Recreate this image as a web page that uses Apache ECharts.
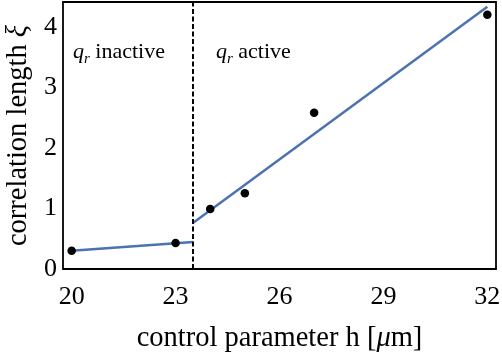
<!DOCTYPE html>
<html>
<head>
<meta charset="utf-8">
<script src="https://cdn.jsdelivr.net/npm/echarts@6/dist/echarts.min.js"></script>
<style>
  html, body { margin: 0; padding: 0; background: #fff; }
  #chart { width: 502px; height: 360px; }
</style>
</head>
<body>
<div id="chart"></div>
<script>
// Measured correlation length versus control parameter
const hValues = [20, 23, 24, 25, 27, 32];
const xiValues = [0.30, 0.43, 0.99, 1.25, 2.58, 4.20];

// Piecewise linear fits on either side of the threshold
const threshold = 23.5;
const fitInactive = [[20, 0.30], [23.5, 0.445]];
const fitActive = [[23.5, 0.76], [32, 4.33]];

// Tick labels
const xTicks = [20, 23, 26, 29, 32];
const yTicks = [0, 1, 2, 3, 4];

const FONT = 'Liberation Serif';
const BLUE = '#4c72b0';
const TITLE_SIZE = 28.5;
const NOTE_SIZE = 22;

const chart = echarts.init(document.getElementById('chart'), null, { renderer: 'canvas' });

const points = hValues.map((h, i) => [h, xiValues[i]]);

function noteStyle(text) {
  return {
    text: '{q|q}{s|r}{t|' + text + '}',
    rich: {
      q: { fontFamily: FONT, fontSize: NOTE_SIZE, fontStyle: 'italic', fill: '#000', lineHeight: 26, verticalAlign: 'bottom' },
      s: { fontFamily: FONT, fontSize: 15, fontStyle: 'italic', fill: '#000', lineHeight: 26, verticalAlign: 'bottom', padding: [0, 0, -4, 0] },
      t: { fontFamily: FONT, fontSize: NOTE_SIZE, fill: '#000', lineHeight: 26, verticalAlign: 'bottom' }
    }
  };
}

chart.setOption({
  animation: false,
  backgroundColor: '#fff',
  grid: {
    left: 63, right: 6, top: 2, bottom: 91,
    containLabel: false,
    outerBoundsMode: 'none',
    show: true, borderColor: '#000', borderWidth: 1.8, backgroundColor: 'transparent'
  },
  xAxis: {
    type: 'value',
    min: 19.75,
    max: 32.25,
    name: '{n|control parameter h [}{i|μ}{n|m]}',
    nameLocation: 'middle',
    nameGap: 55,
    nameTextStyle: {
      rich: {
        n: { fontFamily: FONT, fontSize: TITLE_SIZE, color: '#000' },
        i: { fontFamily: FONT, fontSize: TITLE_SIZE, fontStyle: 'italic', color: '#000' }
      }
    },
    axisLine: { show: false },
    axisTick: { show: false },
    splitLine: { show: false },
    axisLabel: {
      customValues: xTicks,
      fontFamily: FONT,
      fontSize: 26,
      color: '#000',
      margin: 15
    }
  },
  yAxis: {
    type: 'value',
    min: 0,
    max: 4.41,
    name: '{n|correlation length }{i|ξ}',
    nameLocation: 'middle',
    nameGap: 27,
    nameTextStyle: {
      rich: {
        n: { fontFamily: FONT, fontSize: TITLE_SIZE, color: '#000' },
        i: { fontFamily: FONT, fontSize: TITLE_SIZE, fontStyle: 'italic', color: '#000' }
      }
    },
    axisLine: { show: false },
    axisTick: { show: false },
    splitLine: { show: false },
    axisLabel: {
      customValues: yTicks,
      fontFamily: FONT,
      fontSize: 26,
      color: '#000',
      margin: 6
    }
  },
  graphic: [
    { type: 'text', left: 73, top: 41, style: noteStyle(' inactive') },
    { type: 'text', left: 216, top: 41, style: noteStyle(' active') }
  ],
  series: [
    {
      type: 'line',
      data: fitInactive,
      symbol: 'none',
      lineStyle: { color: BLUE, width: 2.5 },
      z: 2,
      markLine: {
        silent: true,
        symbol: 'none',
        label: { show: false },
        lineStyle: { color: '#000', type: [5, 2.5], width: 2 },
        data: [{ xAxis: threshold }]
      }
    },
    {
      type: 'line',
      data: fitActive,
      symbol: 'none',
      lineStyle: { color: BLUE, width: 2.5 },
      z: 2
    },
    {
      type: 'scatter',
      data: points,
      symbol: 'circle',
      symbolSize: 8.5,
      itemStyle: { color: '#000', opacity: 1 },
      z: 3
    }
  ]
});
</script>
</body>
</html>
